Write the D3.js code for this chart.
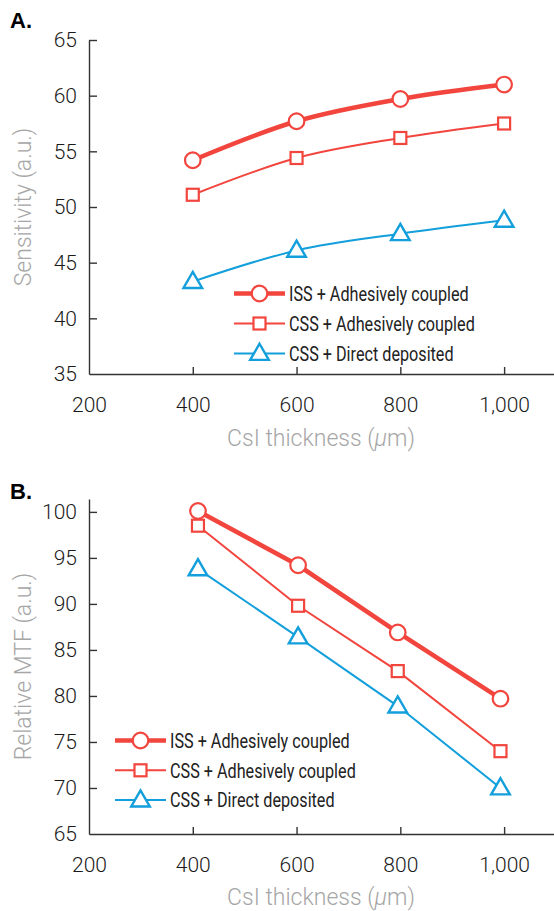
<!DOCTYPE html>
<html>
<head>
<meta charset="utf-8">
<script src="https://cdn.jsdelivr.net/npm/d3@7"></script>
<style>
  body { margin: 0; background: #fff; }
  svg { display: block; }
  .tick text { font-family: Roboto, "Liberation Sans", sans-serif; font-weight: 300; font-size: 21px; fill: #1a1a1a; }
  .axis path, .axis line { stroke: #333; stroke-width: 1.4; }
  .title { font-family: Roboto, "Liberation Sans", sans-serif; font-weight: 300; font-size: 23px; fill: #a6a6a6; }
  .leg { font-family: Roboto, "Liberation Sans", sans-serif; font-size: 20px; fill: #222; }
  .panel { font-family: "Liberation Sans", Arial, sans-serif; font-weight: bold; font-size: 22px; fill: #000; }
</style>
</head>
<body>
<svg id="chart" width="554" height="911"></svg>
<script>
// series names
var series_names = ["ISS + Adhesively coupled", "CSS + Adhesively coupled", "CSS + Direct deposited"];
var series_colors = ["#f2453d", "#f2453d", "#139fdb"];
var series_widths = [4.5, 2, 2];
var series_markers = ["circle", "square", "triangle"];

// panel A : sensitivity
var thick_a = [400, 600, 800, 1000];
var iss_adh_a = [54.2, 57.7, 59.7, 61.0];
var css_adh_a = [51.1, 54.4, 56.2, 57.5];
var css_dir_a = [43.3, 46.1, 47.6, 48.8];

// panel B : relative MTF
var thick_b = [410, 603, 795, 993];
var iss_adh_b = [100.1, 94.2, 86.9, 79.7];
var css_adh_b = [98.5, 89.8, 82.7, 74.0];
var css_dir_b = [93.8, 86.4, 78.9, 70.0];

var x_ticks = [200, 400, 600, 800, 1000];
var y_ticks_a = [35, 40, 45, 50, 55, 60, 65];
var y_ticks_b = [65, 70, 75, 80, 85, 90, 95, 100];

var svg = d3.select("#chart");

function marker(g, kind, x, y, color){
    if(kind == "circle"){
        g.append("circle").attr("cx", x).attr("cy", y).attr("r", 7.8)
            .attr("fill", "#fff").attr("stroke", color).attr("stroke-width", 2.2);
    } else if(kind == "square"){
        g.append("rect").attr("x", x-6).attr("y", y-6).attr("width", 12).attr("height", 12)
            .attr("fill", "#fff").attr("stroke", color).attr("stroke-width", 2.2);
    } else {
        var sym = d3.symbol().type(d3.symbolTriangle).size(150);
        g.append("path").attr("d", sym()).attr("transform", "translate(" + x + "," + (y+1) + ")")
            .attr("fill", "#fff").attr("stroke", color).attr("stroke-width", 2.4);
    }
}

function panel(opt){
    var x = d3.scaleLinear().domain([200, 1100]).range([89, 556]);
    var y = d3.scaleLinear().domain(opt.ydomain).range(opt.yrange);

    var xAxis = svg.append("g").attr("class", "axis")
        .attr("transform", "translate(0," + opt.yrange[0] + ")")
        .call(d3.axisBottom(x).tickValues(x_ticks).tickFormat(d3.format(","))
            .tickSizeInner(-7).tickSizeOuter(0).tickPadding(23));
    xAxis.selectAll(".tick").filter(function(d){ return d == 200; }).select("line").remove();

    var yAxis = svg.append("g").attr("class", "axis")
        .attr("transform", "translate(89,0)")
        .call(d3.axisLeft(y).tickValues(opt.yticks)
            .tickSizeInner(-8).tickSizeOuter(0).tickPadding(12));
    yAxis.selectAll(".tick").filter(function(d){ return d == opt.ydomain[0]; }).select("line").remove();

    svg.append("text").attr("class", "title")
        .attr("x", 321).attr("y", opt.xtitle_y).attr("text-anchor", "middle")
        .html("CsI thickness (<tspan font-style='italic'>μ</tspan>m)");

    var ymid = (opt.yrange[0] + opt.yrange[1]) / 2;
    svg.append("text").attr("class", "title")
        .attr("transform", "translate(31," + ymid + ") rotate(-90)")
        .attr("text-anchor", "middle")
        .text(opt.ytitle);

    svg.append("text").attr("class", "panel").attr("x", 10).attr("y", opt.label_y).text(opt.label);

    var line = d3.line()
        .x(function(d){ return x(d[0]); })
        .y(function(d){ return y(d[1]); })
        .curve(opt.curve);

    opt.values.forEach(function(vals, i){
        var pts = opt.xs.map(function(t, j){ return [t, vals[j]]; });
        svg.append("path").datum(pts).attr("d", line)
            .attr("fill", "none").attr("stroke", series_colors[i])
            .attr("stroke-width", series_widths[i]);
    });
    opt.values.forEach(function(vals, i){
        var g = svg.append("g");
        opt.xs.forEach(function(t, j){
            marker(g, series_markers[i], x(t), y(vals[j]), series_colors[i]);
        });
    });

    // legend (text squeezed horizontally, the original uses a condensed face)
    series_names.forEach(function(name, i){
        var ly = opt.leg_y + i * opt.leg_dy;
        var g = svg.append("g");
        g.append("line").attr("x1", opt.leg_x).attr("x2", opt.leg_x + 51)
            .attr("y1", ly).attr("y2", ly)
            .attr("stroke", series_colors[i]).attr("stroke-width", series_widths[i]);
        marker(g, series_markers[i], opt.leg_x + 25.5, ly, series_colors[i]);
        var tx = opt.leg_x + 55;
        g.append("text").attr("class", "leg")
            .attr("transform", "translate(" + tx + "," + ly + ") scale(0.81,1)")
            .attr("dy", "0.36em").text(name);
    });
}

panel({
    label: "A.", label_y: 28,
    ydomain: [35, 65], yrange: [374, 40], yticks: y_ticks_a,
    ytitle: "Sensitivity (a.u.)", xtitle_y: 446,
    xs: thick_a, values: [iss_adh_a, css_adh_a, css_dir_a],
    curve: d3.curveMonotoneX,
    leg_x: 234, leg_y: 293.5, leg_dy: 30
});

panel({
    label: "B.", label_y: 499,
    ydomain: [65, 101.4], yrange: [834, 499], yticks: y_ticks_b,
    ytitle: "Relative MTF (a.u.)", xtitle_y: 905,
    xs: thick_b, values: [iss_adh_b, css_adh_b, css_dir_b],
    curve: d3.curveLinear,
    leg_x: 115, leg_y: 740.5, leg_dy: 29.8
});
</script>
</body>
</html>
